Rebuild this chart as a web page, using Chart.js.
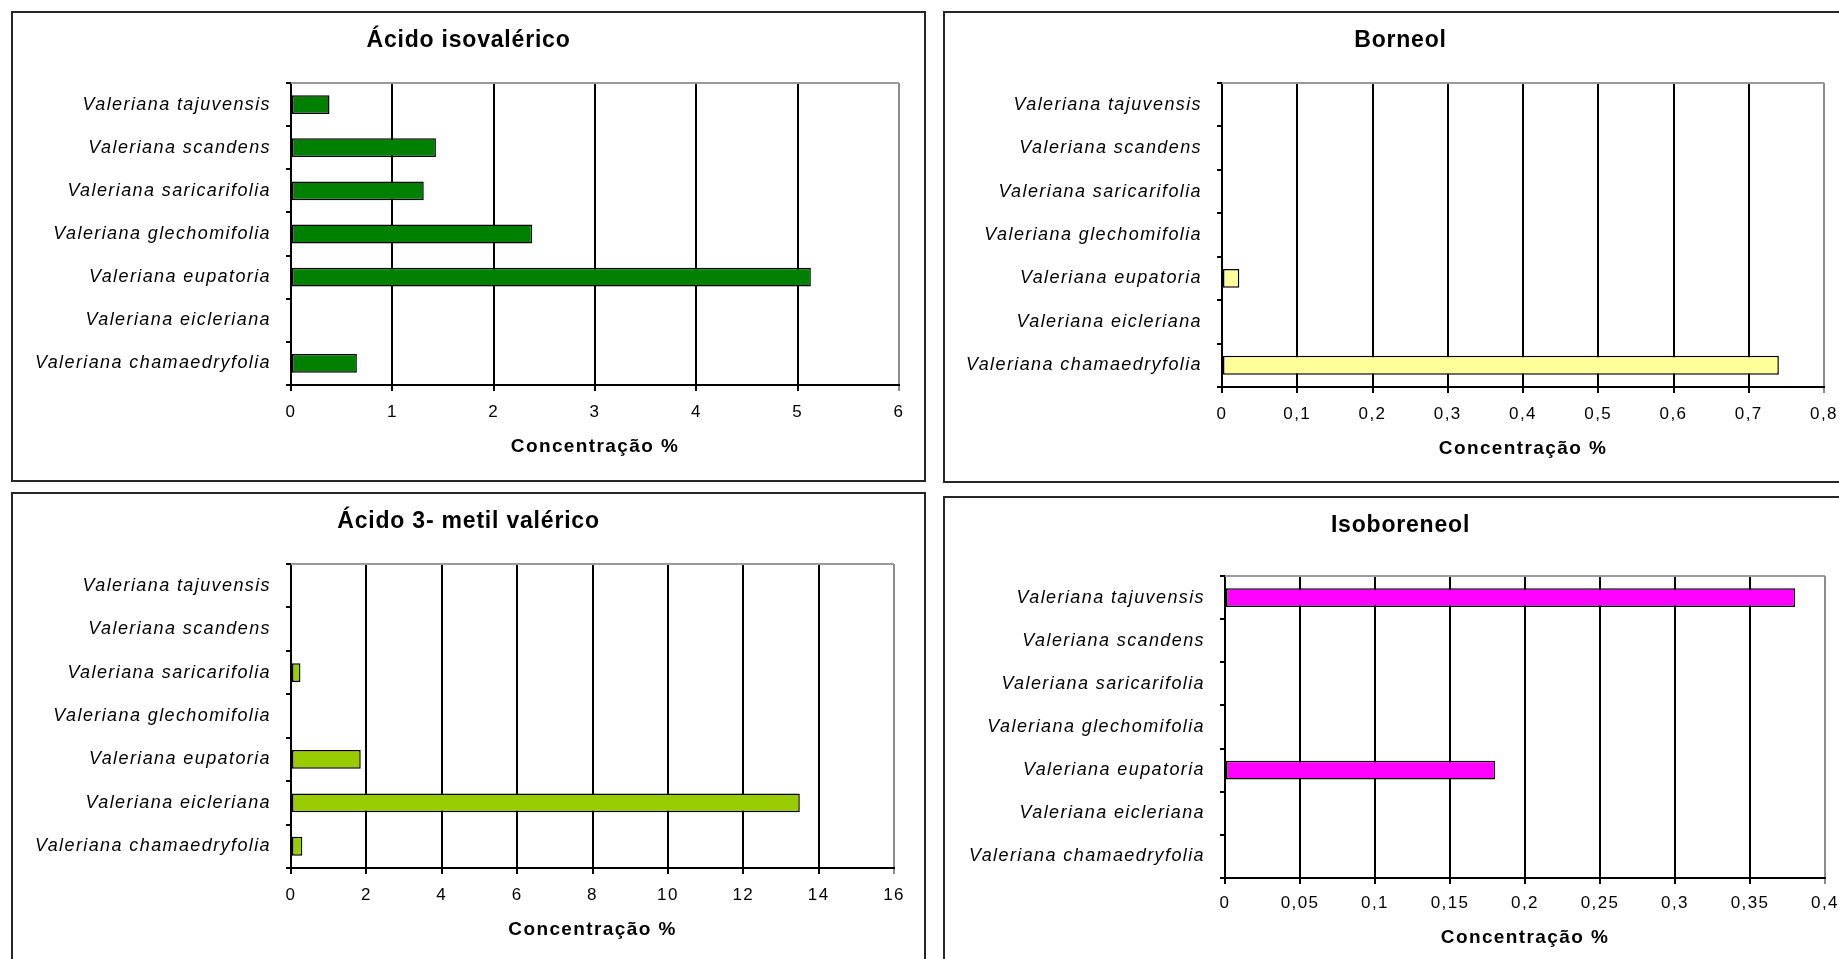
<!DOCTYPE html>
<html lang="pt">
<head>
<meta charset="utf-8">
<title>Concentração de compostos em espécies de Valeriana</title>
<script src="https://cdn.jsdelivr.net/npm/chart.js@4.4.1/dist/chart.umd.min.js"></script>
<style>
  html, body { margin: 0; padding: 0; background: #fff; width: 1839px; height: 959px; overflow: hidden; position: relative; }
  .panel { position: absolute; box-sizing: border-box; border: 2px solid #262626; background: #fff; width: 915px; }
  .panel canvas { display: block; }
</style>
</head>
<body>
<div class="panel" style="left:11px; top:11px; height:471px;"><canvas id="isovalerico" width="911" height="467"></canvas></div>
<div class="panel" style="left:943px; top:11px; height:472px;"><canvas id="borneol" width="911" height="468"></canvas></div>
<div class="panel" style="left:11px; top:492px; height:471px;"><canvas id="metilvalerico" width="911" height="467"></canvas></div>
<div class="panel" style="left:943px; top:496px; height:471px;"><canvas id="isoboreneol" width="911" height="467"></canvas></div>

<script>
// Species (listed bottom to top on the category axis)
const categories = [
  'Valeriana chamaedryfolia',
  'Valeriana eicleriana',
  'Valeriana eupatoria',
  'Valeriana glechomifolia',
  'Valeriana saricarifolia',
  'Valeriana scandens',
  'Valeriana tajuvensis'
];

// Concentration (%) per species; null = compound not detected
const acidoIsovalerico = [0.65, null, 5.13, 2.38, 1.31, 1.43, 0.38];
const borneol          = [0.74, null, 0.023, null, null, null, null];
const acido3Metil      = [0.3, 13.5, 1.85, null, 0.25, null, null];
const isoboreneol      = [null, null, 0.18, null, null, null, 0.38];

// Value axis ranges: [max, step]
const axisIsovalerico = [6, 1];
const axisBorneol     = [0.8, 0.1];
const axisMetil       = [16, 2];
const axisIsoboreneol = [0.4, 0.05];

const axisTitle = 'Concentração %';
const FONT = '"Liberation Sans", Arial, sans-serif';

// Spaced-out lettering used for axis labels
const spacing = {
  id: 'spacing',
  beforeDraw(chart) { chart.ctx.letterSpacing = '1.4px'; }
};

// Light frame along the top of the plot area
const plotFrame = {
  id: 'plotFrame',
  beforeDatasetsDraw(chart) {
    const { ctx, chartArea: a } = chart;
    ctx.save();
    ctx.strokeStyle = '#9a9a9a';
    ctx.lineWidth = 2;
    ctx.beginPath();
    ctx.moveTo(a.left, a.top);
    ctx.lineTo(a.right, a.top);
    ctx.stroke();
    ctx.restore();
  }
};

function fmt(v) {
  return String(Number(v.toFixed(2))).replace('.', ',');
}

function buildChart(id, title, values, color, range, L) {
  const [xMax, xStep] = range;
  const chart = new Chart(document.getElementById(id), {
    type: 'bar',
    data: {
      labels: categories,
      datasets: [{
        data: values,
        backgroundColor: color,
        borderColor: '#000',
        borderWidth: 1.5,
        borderSkipped: false,
        barPercentage: 0.435,
        categoryPercentage: 1
      }]
    },
    options: {
      indexAxis: 'y',
      responsive: false,
      animation: false,
      devicePixelRatio: 1,
      layout: { padding: { left: 0, right: L.right, top: 0, bottom: 0 } },
      plugins: {
        legend: { display: false },
        tooltip: { enabled: false },
        title: {
          display: true,
          text: title,
          color: '#000',
          font: { family: FONT, size: 23, weight: 'bold', lineHeight: 1.2 },
          padding: { top: L.titleTop, bottom: L.titleBottom }
        }
      },
      scales: {
        x: {
          type: 'linear',
          position: 'bottom',
          min: 0,
          max: xMax,
          ticks: {
            stepSize: xStep,
            color: '#000',
            font: { family: FONT, size: 17 },
            padding: L.tickPad,
            maxRotation: 0,
            callback: v => fmt(v)
          },
          grid: {
            color: c => (c.tick && Math.abs(c.tick.value - xMax) < 1e-9) ? '#8c8c8c' : '#000',
            lineWidth: 2,
            tickLength: 6
          },
          border: { display: true, color: '#000', width: 2 },
          title: {
            display: true,
            text: axisTitle,
            color: '#000',
            font: { family: FONT, size: 19, weight: 'bold', lineHeight: 1.2 },
            padding: { top: 0, bottom: L.axisTitleBottom }
          },
          afterFit: s => { s.height = L.xHeight; }
        },
        y: {
          type: 'category',
          reverse: true,
          offset: true,
          ticks: {
            color: '#000',
            font: { family: FONT, size: 18, style: 'italic' },
            padding: 15
          },
          grid: {
            offset: true,
            drawOnChartArea: false,
            color: '#000',
            lineWidth: 2,
            tickLength: 5
          },
          border: { display: true, color: '#000', width: 2 },
          afterFit: s => { s.width = L.yWidth; }
        }
      }
    },
    plugins: [spacing, plotFrame]
  });

  // Chart heading: tighter lettering, centred on the whole panel
  const tb = chart.titleBlock;
  const drawTitle = tb.draw.bind(tb);
  tb.draw = function (area) {
    const ctx = chart.ctx;
    ctx.save();
    ctx.translate(L.right / 2, 0);
    ctx.letterSpacing = '0.8px';
    drawTitle(area);
    ctx.restore();
  };
  chart.draw();
  return chart;
}

buildChart('isovalerico', 'Ácido isovalérico', acidoIsovalerico, '#008000', axisIsovalerico,
  { yWidth: 278, right: 25, titleTop: 13.4, titleBottom: 29, xHeight: 95, tickPad: 11, axisTitleBottom: 21.6 });

buildChart('borneol', 'Borneol', borneol, '#ffff99', axisBorneol,
  { yWidth: 277, right: 32, titleTop: 13.9, titleBottom: 28.5, xHeight: 94, tickPad: 10.8, axisTitleBottom: 20.6 });

buildChart('metilvalerico', 'Ácido 3- metil valérico', acido3Metil, '#99cc00', axisMetil,
  { yWidth: 278, right: 30, titleTop: 13.8, titleBottom: 28.6, xHeight: 93, tickPad: 10.8, axisTitleBottom: 19.6 });

buildChart('isoboreneol', 'Isoboreneol', isoboreneol, '#ff00ff', axisIsoboreneol,
  { yWidth: 280, right: 31, titleTop: 14.2, titleBottom: 36.2, xHeight: 87, tickPad: 9.2, axisTitleBottom: 15.6 });
</script>
</body>
</html>
